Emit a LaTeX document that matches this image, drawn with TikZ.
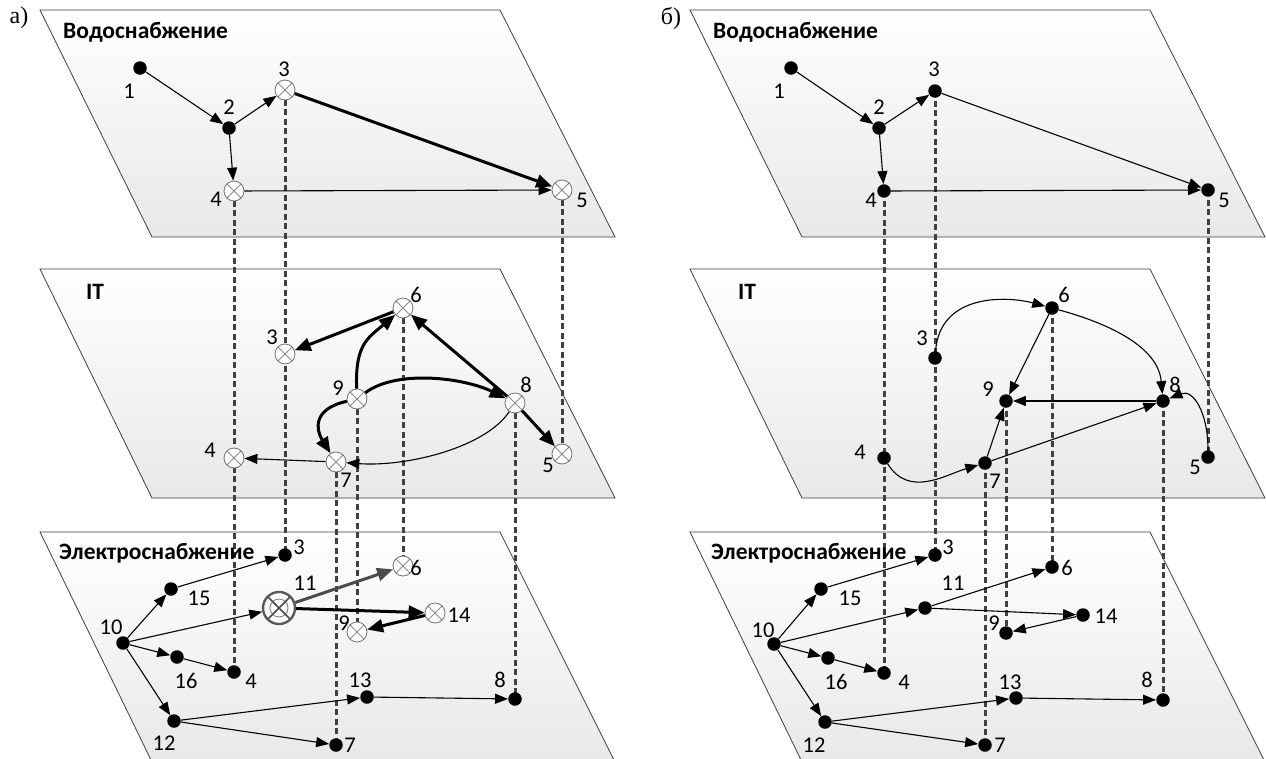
\documentclass[tikz,border=0pt]{standalone}
\usepackage{fontspec}
\setmainfont{Carlito}
\newfontfamily\serifa{Liberation Serif}
\usetikzlibrary{arrows.meta}
\pgfdeclarelayer{back}
\pgfdeclarelayer{mid}
\pgfsetlayers{back,mid,main}
\newcommand\mylblfont{\fontsize{22.5}{26}\selectfont}
\newcommand\myttlfont{\fontsize{23.5}{28}\selectfont\bfseries}
\tikzset{
 plane/.style={draw=black!75, line width=0.8pt, top color=white, bottom color=black!9},
 dotn/.style={circle, fill=black, inner sep=0pt, minimum size=13.5pt},
 xn/.style={circle, draw=black!55, line width=0.8pt, fill=white, inner sep=0pt, minimum size=20pt,
   path picture={\draw[black!45, line width=1pt] (path picture bounding box.north west) -- (path picture bounding box.south east) (path picture bounding box.north east) -- (path picture bounding box.south west);}},
 bign/.style={circle, draw=black!65, line width=2.4pt, fill=white, inner sep=0pt, minimum size=32pt,
   path picture={\draw[black!45, line width=1pt] (path picture bounding box.center) circle (9pt);
     \draw[black!70, line width=1.7pt] (path picture bounding box.north west) -- (path picture bounding box.south east) (path picture bounding box.north east) -- (path picture bounding box.south west);}},
 lbl/.style={font=\mylblfont, inner sep=0pt},
 ttl/.style={font=\myttlfont, inner sep=0pt, anchor=west},
 thinarr/.style={line width=1.1pt, -{Triangle[length=13pt,width=10pt]}},
 thickarr/.style={line width=3pt, -{Triangle[length=16pt,width=13pt]}},
 grayarr/.style={thickarr, draw=black!70, fill=black!70},
 vdash/.style={line width=3pt, draw=black!75, dash pattern=on 6pt off 3.5pt},
}
\begin{document}
\begin{tikzpicture}[x=1pt,y=-1pt]
\useasboundingbox (0,0) rectangle (1266,758);
\begin{pgfonlayer}{back}
\fill[white] (0,0) rectangle (1266,758);
% left planes
\path[plane] (40,10) -- (500,10) -- (615,237) -- (152,237) -- cycle;
\path[plane] (40,269) -- (500,269) -- (615,498) -- (152,498) -- cycle;
\path[plane] (40,532) -- (500,532) -- (615,762) -- (152,762) -- cycle;
% right planes
\path[plane] (690,10) -- (1150,10) -- (1265,237) -- (802,237) -- cycle;
\path[plane] (690,269) -- (1150,269) -- (1265,498) -- (802,498) -- cycle;
\path[plane] (690,532) -- (1150,532) -- (1265,762) -- (802,762) -- cycle;
\end{pgfonlayer}

% panel letters and titles
\node[font=\serifa\fontsize{24}{28}\selectfont, inner sep=0pt] (pa) at (19,18) {а)};
\node[font=\serifa\fontsize{24}{28}\selectfont, inner sep=0pt] (pb) at (671,18) {б)};
\node[ttl] (ta1) at (63,32) {Водоснабжение};
\node[ttl] (ta2) at (86,292) {IT};
\node[ttl] (ta3) at (59,553) {Электроснабжение};
\node[ttl] (tb1) at (713,32) {Водоснабжение};
\node[ttl] (tb2) at (738,292) {IT};
\node[ttl] (tb3) at (711,553) {Электроснабжение};

% ===== LEFT PANEL =====
\node[dotn] (aT1) at (140,68) {};
\node[dotn] (aT2) at (229,128) {};
\node[xn] (aT3) at (285,90) {};
\node[xn] (aT4) at (234,191) {};
\node[xn] (aT5) at (562,190) {};
\node[lbl] (laT1) at (129,91) {1};
\node[lbl] (laT2) at (229,107) {2};
\node[lbl] (laT3) at (284,69) {3};
\node[lbl] (laT4) at (216,199) {4};
\node[lbl] (laT5) at (582,200) {5};

\node[xn] (aI6) at (403,308) {};
\node[xn] (aI3) at (285,354) {};
\node[xn] (aI9) at (357,399) {};
\node[xn] (aI8) at (515,403) {};
\node[xn] (aI4) at (234,458) {};
\node[xn] (aI7) at (336,462) {};
\node[xn] (aI5) at (562,454) {};
\node[lbl] (laI6) at (416,295) {6};
\node[lbl] (laI3) at (272,337) {3};
\node[lbl] (laI9) at (338,388) {9};
\node[lbl] (laI8) at (526,385) {8};
\node[lbl] (laI4) at (210,450) {4};
\node[lbl] (laI7) at (346,480) {7};
\node[lbl] (laI5) at (548,465) {5};

\node[dotn] (aE3) at (285,555) {};
\node[dotn] (aE15) at (171,589) {};
\node[bign] (aE11) at (279,608) {};
\node[xn] (aE6) at (403,566) {};
\node[xn] (aE14) at (435,613) {};
\node[xn] (aE9) at (357,632) {};
\node[dotn] (aE10) at (123,643) {};
\node[dotn] (aE16) at (177,657) {};
\node[dotn] (aE4) at (234,672) {};
\node[dotn] (aE13) at (367,697) {};
\node[dotn] (aE8) at (515,699) {};
\node[dotn] (aE12) at (174,721) {};
\node[dotn] (aE7) at (336,745) {};
\node[lbl] (laE3) at (299,547) {3};
\node[lbl] (laE15) at (199,598) {15};
\node[lbl] (laE11) at (305,583) {11};
\node[lbl] (laE6) at (416,568) {6};
\node[lbl] (laE14) at (459,615) {14};
\node[lbl] (laE9) at (344,623) {9};
\node[lbl] (laE10) at (111,627) {10};
\node[lbl] (laE16) at (186,681) {16};
\node[lbl] (laE4) at (251,681) {4};
\node[lbl] (laE13) at (360,680) {13};
\node[lbl] (laE8) at (500,680) {8};
\node[lbl] (laE12) at (164,743) {12};
\node[lbl] (laE7) at (350,745) {7};

\begin{pgfonlayer}{mid}
\draw[vdash] (aT4.center) -- (aI4.center) -- (aE4.center);
\draw[vdash] (aT3.center) -- (aI3.center) -- (aE3.center);
\draw[vdash] (aT5.center) -- (aI5.center);
\draw[vdash] (aI7.center) -- (aE7.center);
\draw[vdash] (aI9.center) -- (aE9.center);
\draw[vdash] (aI6.center) -- (aE6.center);
\draw[vdash] (aI8.center) -- (aE8.center);
\end{pgfonlayer}

\draw[thinarr] (aT1) -- (aT2);
\draw[thinarr] (aT2) -- (aT3);
\draw[thinarr] (aT2) -- (aT4);
\draw[thickarr] (aT3) -- (aT5);
\draw[thinarr] (aT4) -- (aT5);

\draw[thickarr] (aI6) -- (aI3);
\draw[thickarr] (aI9) .. controls +(-2,-55) and +(-35,30) .. (aI6);
\draw[thickarr] (aI9) .. controls +(40,-30) and +(-50,-25) .. (aI8);
\draw[thickarr] (aI9) .. controls +(-45,10) and +(-20,-32) .. (aI7);
\draw[thickarr] (aI8) -- (aI6);
\draw[thickarr] (aI8) -- (aI5);
\draw[thinarr] (aI8) .. controls +(-30,45) and +(70,5) .. (aI7);
\draw[thinarr] (aI7) -- (aI4);

\draw[thinarr] (aE15) -- (aE3);
\draw[thinarr] (aE10) -- (aE15);
\draw[thinarr] (aE10) -- (aE11);
\draw[thinarr] (aE10) -- (aE16);
\draw[thinarr] (aE16) -- (aE4);
\draw[thinarr] (aE10) -- (aE12);
\draw[thinarr] (aE12) -- (aE13);
\draw[thinarr] (aE12) -- (aE7);
\draw[thinarr] (aE13) -- (aE8);
\draw[grayarr] (aE11) -- (aE6);
\draw[thickarr] (aE11) -- (aE14);
\draw[thickarr] (aE14) -- (aE9);

% ===== RIGHT PANEL =====
\node[dotn] (bT1) at (791,68) {};
\node[dotn] (bT2) at (879,128) {};
\node[dotn] (bT3) at (935,91) {};
\node[dotn] (bT4) at (884,191) {};
\node[dotn] (bT5) at (1208,190) {};
\node[lbl] (lbT1) at (779,91) {1};
\node[lbl] (lbT2) at (879,107) {2};
\node[lbl] (lbT3) at (934,69) {3};
\node[lbl] (lbT4) at (871,200) {4};
\node[lbl] (lbT5) at (1224,200) {5};

\node[dotn] (bI6) at (1052,308) {};
\node[dotn] (bI3) at (935,358) {};
\node[dotn] (bI9) at (1006,401) {};
\node[dotn] (bI8) at (1163,401) {};
\node[dotn] (bI4) at (884,458) {};
\node[dotn] (bI7) at (985,463) {};
\node[dotn] (bI5) at (1208,457) {};
\node[lbl] (lbI6) at (1064,295) {6};
\node[lbl] (lbI3) at (922,338) {3};
\node[lbl] (lbI9) at (988,389) {9};
\node[lbl] (lbI8) at (1175,385) {8};
\node[lbl] (lbI4) at (860,452) {4};
\node[lbl] (lbI7) at (995,481) {7};
\node[lbl] (lbI5) at (1195,467) {5};

\node[dotn] (bE3) at (935,555) {};
\node[dotn] (bE15) at (821,589) {};
\node[dotn] (bE11) at (925,608) {};
\node[dotn] (bE6) at (1052,567) {};
\node[dotn] (bE14) at (1083,615) {};
\node[dotn] (bE9) at (1006,633) {};
\node[dotn] (bE10) at (774,644) {};
\node[dotn] (bE16) at (828,658) {};
\node[dotn] (bE4) at (884,673) {};
\node[dotn] (bE13) at (1016,698) {};
\node[dotn] (bE8) at (1163,700) {};
\node[dotn] (bE12) at (825,722) {};
\node[dotn] (bE7) at (985,745) {};
\node[lbl] (lbE3) at (948,547) {3};
\node[lbl] (lbE15) at (850,598) {15};
\node[lbl] (lbE11) at (953,583) {11};
\node[lbl] (lbE6) at (1067,568) {6};
\node[lbl] (lbE14) at (1106,616) {14};
\node[lbl] (lbE9) at (994,623) {9};
\node[lbl] (lbE10) at (763,630) {10};
\node[lbl] (lbE16) at (836,682) {16};
\node[lbl] (lbE4) at (904,682) {4};
\node[lbl] (lbE13) at (1010,682) {13};
\node[lbl] (lbE8) at (1147,680) {8};
\node[lbl] (lbE12) at (814,745) {12};
\node[lbl] (lbE7) at (1000,745) {7};

\begin{pgfonlayer}{mid}
\draw[vdash] (bT4.center) -- (bI4.center) -- (bE4.center);
\draw[vdash] (bT3.center) -- (bI3.center) -- (bE3.center);
\draw[vdash] (bT5.center) -- (bI5.center);
\draw[vdash] (bI7.center) -- (bE7.center);
\draw[vdash] (bI9.center) -- (bE9.center);
\draw[vdash] (bI6.center) -- (bE6.center);
\draw[vdash] (bI8.center) -- (bE8.center);
\end{pgfonlayer}

\draw[thinarr] (bT1) -- (bT2);
\draw[thinarr] (bT2) -- (bT3);
\draw[thinarr] (bT2) -- (bT4);
\draw[thinarr] (bT3) -- (bT5);
\draw[thinarr] (bT4) -- (bT5);

\draw[thinarr] (bI3) .. controls +(5,-65) and +(-45,-12) .. (bI6);
\draw[thinarr] (bI6) -- (bI9);
\draw[thinarr] (bI6) .. controls +(55,15) and +(-5,-55) .. (bI8);
\draw[thinarr] (bI8) -- (bI9);
\draw[thinarr] (bI7) -- (bI9);
\draw[thinarr] (bI7) -- (bI8);
\draw[thinarr] (bI4) .. controls +(25,40) and +(-40,12) .. (bI7);
\draw[thinarr] (bI5) .. controls +(0,-45) and +(30,-12) .. (bI8);

\draw[thinarr] (bE15) -- (bE3);
\draw[thinarr] (bE10) -- (bE15);
\draw[thinarr] (bE10) -- (bE11);
\draw[thinarr] (bE10) -- (bE16);
\draw[thinarr] (bE16) -- (bE4);
\draw[thinarr] (bE10) -- (bE12);
\draw[thinarr] (bE12) -- (bE13);
\draw[thinarr] (bE12) -- (bE7);
\draw[thinarr] (bE13) -- (bE8);
\draw[thinarr] (bE11) -- (bE6);
\draw[thinarr] (bE11) -- (bE14);
\draw[thinarr] (bE14) -- (bE9);
\end{tikzpicture}
\end{document}
